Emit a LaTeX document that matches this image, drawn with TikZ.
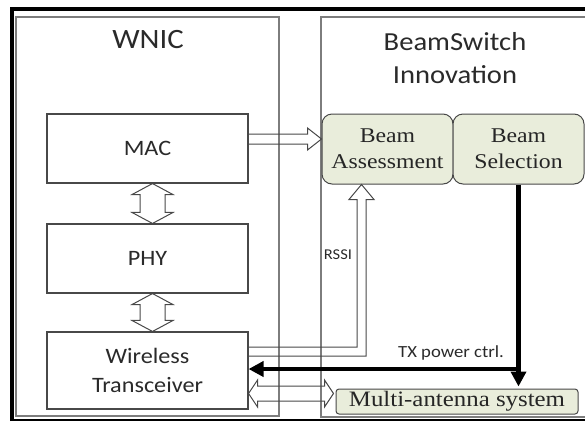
\documentclass[tikz,border=0pt]{standalone}
\usepackage{fontspec}
\setmainfont{Liberation Serif}[FakeStretch=1.13]
\newfontfamily\calfont{Carlito}[FakeStretch=1.1]
\usetikzlibrary{arrows.meta,calc}
\definecolor{boxgreen}{RGB}{233,237,219}
\definecolor{panelgray}{RGB}{125,125,125}
\definecolor{boxline}{RGB}{72,72,72}
\definecolor{txt}{RGB}{42,42,42}
\tikzset{
  panel/.style={draw=panelgray, line width=1.3pt},
  layerbox/.style={draw=boxline, line width=1.1pt, minimum width=201pt, text=txt,
    font=\calfont\fontsize{22}{29}\selectfont, align=center, inner sep=0pt},
  greenbox/.style={draw=boxline, fill=boxgreen, rounded corners=10pt, line width=1pt,
    minimum width=131pt, minimum height=70pt, text=black!85,
    font=\fontsize{21}{26}\selectfont, align=center, inner sep=0pt},
  title/.style={text=txt, font=\calfont\fontsize{28}{33}\selectfont, align=center, inner sep=0pt},
  smalllabel/.style={text=txt, inner sep=0pt},
  hollow/.style={draw=boxline, line width=1pt, line join=miter},
  ctrlline/.style={draw=black, line width=4.5pt, -{Triangle[length=15pt,width=15pt]}},
}
\begin{document}
\begin{tikzpicture}[x=1pt,y=-1pt]
\useasboundingbox (0,0) rectangle (585,421);
\clip (0,0) rectangle (585,421);
% panels
\draw[panel] (16,17) rectangle (279,416);
\draw[panel] (321,17) rectangle (600,417);
% outer frame
\draw[black, line width=4pt] (12,421) -- (12,9) -- (590,9);
\draw[black, line width=2pt] (10,419.5) -- (590,419.5);
% titles
\node[title] (wnic) at (148,40) {WNIC};
\node[title, font=\calfont\fontsize{26}{33}\selectfont] (bsi) at (455,58) {BeamSwitch\\Innovation};
% layer boxes
\node[layerbox, minimum height=69pt] (mac) at (147.5,148.5) {MAC};
\node[layerbox, minimum height=69pt] (phy) at (147.5,258.5) {PHY};
\node[layerbox, minimum height=77pt] (wt) at (147.5,370.5) {Wireless\\Transceiver};
% green boxes
\node[greenbox] (ba) at (387.5,149) {Beam\\Assessment};
\node[greenbox] (bsel) at (518.5,149) {Beam\\Selection};
\node[greenbox, rounded corners=3pt, minimum width=242pt, minimum height=25pt,
      font=\fontsize{22}{26}\selectfont] (ma) at (457,401.5) {Multi-antenna system};
% labels
\node[smalllabel, font=\calfont\fontsize{15}{15}\selectfont] (rssi) at (338,255) {RSSI};
\node[smalllabel, font=\calfont\fontsize{17}{17}\selectfont] (txp) at (451,353) {TX power ctrl.};
% MAC -> Beam Assessment
\coordinate (m1) at ([yshift=9.5pt]mac.east);
\coordinate (m2) at (ba.west |- m1);
\draw[hollow] ($(m1)+(0,-5)$) -- ($(m2)+(-14,-5)$) -- ++(0,-6) -- (m2) -- ++(-14,11) -- ++(0,-6) -- ($(m1)+(0,5)$);
% MAC <-> PHY
\coordinate (d1a) at ([xshift=5pt]mac.south);
\coordinate (d1b) at (d1a |- phy.north);
\draw[hollow] (d1a) -- ++(20.5,11) -- ++(-8,0) -- ($(d1b)+(12.5,-11)$) -- ++(8,0) -- (d1b)
  -- ++(-20.5,-11) -- ++(8,0) -- ($(d1a)+(-12.5,11)$) -- ++(-8,0) -- cycle;
% PHY <-> WT
\coordinate (d2a) at ([xshift=5pt]phy.south);
\coordinate (d2b) at (d2a |- wt.north);
\draw[hollow] (d2a) -- ++(20.5,11) -- ++(-8,0) -- ($(d2b)+(12.5,-11)$) -- ++(8,0) -- (d2b)
  -- ++(-20.5,-11) -- ++(8,0) -- ($(d2a)+(-12.5,11)$) -- ++(-8,0) -- cycle;
% RSSI arrow WT -> Beam Assessment
\coordinate (rt) at ([xshift=-26pt]ba.south);
\draw[hollow] ([yshift=23.5pt]wt.east) -| ($(rt)+(-4.5,15)$) -- ++(-8,0) -- (rt) -- ++(12.5,15) -- ++(-8,0) |- ([yshift=14.5pt]wt.east);
% WT <-> multi-antenna
\coordinate (ha) at ([yshift=-23pt]wt.east);
\coordinate (hb) at ([xshift=-2pt]ma.west |- ha);
\draw[hollow] (ha) -- ++(9,-13.5) -- ++(0,6) -- ($(hb)+(-9,-7.5)$) -- ++(0,-6) -- (hb)
  -- ++(-9,13.5) -- ++(0,-6) -- ($(ha)+(9,7.5)$) -- ++(0,6) -- cycle;
% TX power control
\coordinate (wtc) at ([yshift=1.5pt]wt.east);
\coordinate (txj) at (bsel.south |- wtc);
\draw[ctrlline] (bsel.south) -- ([yshift=2pt]bsel.south |- ma.north);
\draw[ctrlline] ([xshift=2.25pt]txj) -- (wtc);
\end{tikzpicture}
\end{document}
